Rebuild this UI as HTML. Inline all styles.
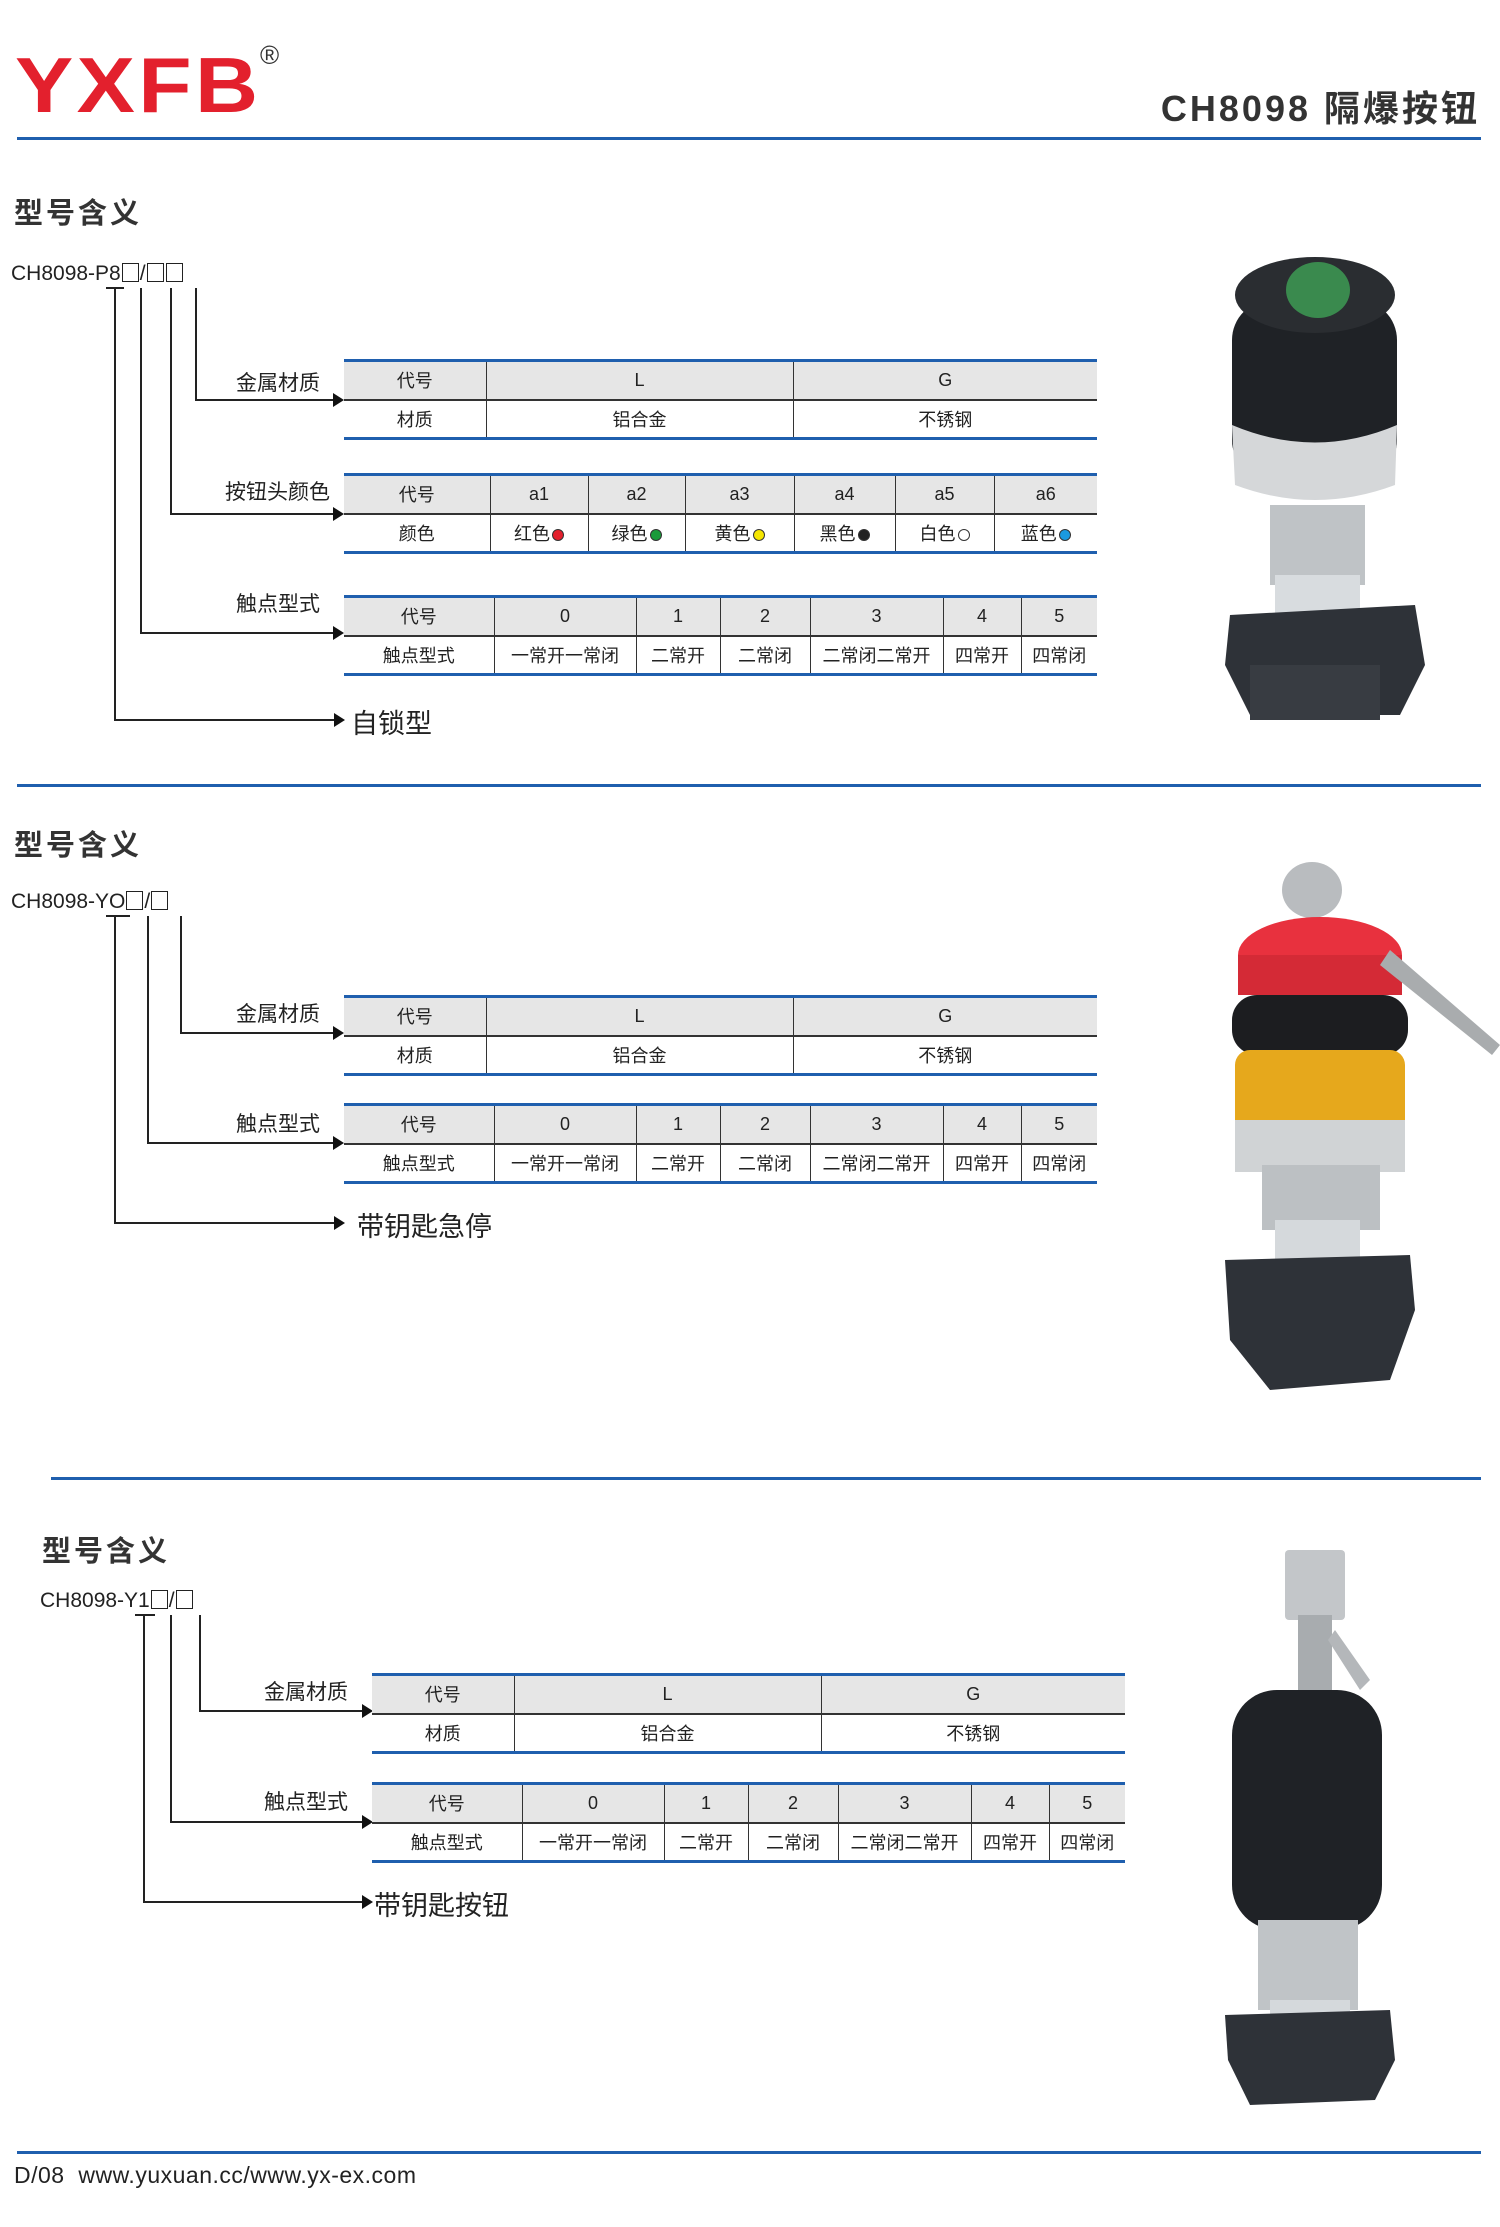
<!DOCTYPE html>
<html><head><meta charset="utf-8">
<style>
*{margin:0;padding:0;box-sizing:border-box}
body{width:1500px;height:2227px;background:#fff;position:relative;overflow:hidden;font-family:"Liberation Sans","Noto Sans CJK SC",sans-serif;color:#222}
.a{position:absolute}
.hl{position:absolute;height:3px;background:#1f5fae}
.h2{position:absolute;font-size:29px;font-weight:bold;color:#333;letter-spacing:3px;font-family:"Noto Sans CJK SC",sans-serif}
.code{position:absolute;font-size:21px;color:#222;white-space:nowrap}
.bx{display:inline-block;width:17px;height:19px;border:1.5px solid #222;vertical-align:-2px;margin:0 1px}
.lab{position:absolute;font-size:21px;color:#222;text-align:right;width:160px}
.v{position:absolute;width:2px;background:#222}
.h{position:absolute;height:2px;background:#222}
.ar{position:absolute;width:0;height:0;border-top:7px solid transparent;border-bottom:7px solid transparent;border-left:11px solid #111}
table{position:absolute;border-collapse:collapse;table-layout:fixed;font-size:18px;text-align:center}
table td{height:39px;border-left:1.5px solid #333;padding:0;white-space:nowrap}
table td:first-child{border-left:none}
table tr.r1 td{background:#e6e6e6;border-top:3px solid #1f5fae;border-bottom:2.5px solid #333}
table tr.r2 td{border-bottom:3px solid #1f5fae}
.dot{display:inline-block;width:12px;height:12px;border-radius:50%;border:1.5px solid #333;vertical-align:-1px;margin-left:2px}
.big{position:absolute;font-size:27px;color:#222}
</style></head><body>

<div class="a" style="left:15px;top:40px;font-size:78px;font-weight:bold;color:#e3202d;letter-spacing:3px;line-height:90px;transform:scaleX(1.12);transform-origin:left">YXFB</div>
<div class="a" style="left:260px;top:40px;font-size:26px;color:#333">®</div>
<div class="a" style="right:20px;top:80px;font-size:36px;font-weight:bold;color:#333;letter-spacing:3px;font-family:'Liberation Sans','Noto Sans CJK SC',sans-serif">CH8098 隔爆按钮</div>
<div class="hl" style="left:17px;top:137px;width:1464px"></div>

<!-- Section 1 -->
<div class="h2" style="left:14px;top:190px">型号含义</div>
<div class="code" style="left:11px;top:262px">CH8098-P8<span class="bx"></span>/<span class="bx"></span><span class="bx"></span></div>
<div class="v" style="left:114px;top:288px;height:433px"></div>
<div class="h" style="left:106px;top:287px;width:18px"></div>
<div class="v" style="left:140px;top:288px;height:346px"></div>
<div class="v" style="left:170px;top:288px;height:227px"></div>
<div class="v" style="left:195px;top:288px;height:113px"></div>
<div class="h" style="left:195px;top:399px;width:140px"></div><div class="ar" style="left:333px;top:393px"></div>
<div class="h" style="left:170px;top:513px;width:165px"></div><div class="ar" style="left:333px;top:507px"></div>
<div class="h" style="left:140px;top:632px;width:195px"></div><div class="ar" style="left:333px;top:626px"></div>
<div class="h" style="left:114px;top:719px;width:222px"></div><div class="ar" style="left:334px;top:713px"></div>
<div class="lab" style="left:160px;top:367px">金属材质</div>
<div class="lab" style="left:170px;top:476px">按钮头颜色</div>
<div class="lab" style="left:160px;top:588px">触点型式</div>
<div class="big" style="left:351px;top:702px">自锁型</div>

<table style="left:344px;top:359px;width:753px"><colgroup><col style="width:142px"><col style="width:307px"><col style="width:304px"></colgroup>
<tr class="r1"><td>代号</td><td>L</td><td>G</td></tr><tr class="r2"><td>材质</td><td>铝合金</td><td>不锈钢</td></tr></table>

<table style="left:344px;top:473px;width:753px"><colgroup><col style="width:146px"><col style="width:98px"><col style="width:97px"><col style="width:109px"><col style="width:101px"><col style="width:99px"><col style="width:103px"></colgroup>
<tr class="r1"><td>代号</td><td>a1</td><td>a2</td><td>a3</td><td>a4</td><td>a5</td><td>a6</td></tr>
<tr class="r2"><td>颜色</td><td>红色<span class="dot" style="background:#e3202d"></span></td><td>绿色<span class="dot" style="background:#1a9a3a"></span></td><td>黄色<span class="dot" style="background:#f5e600"></span></td><td>黑色<span class="dot" style="background:#222"></span></td><td>白色<span class="dot" style="background:#fff"></span></td><td>蓝色<span class="dot" style="background:#1a9ae0"></span></td></tr></table>

<table style="left:344px;top:595px;width:753px"><colgroup><col style="width:150px"><col style="width:142px"><col style="width:84px"><col style="width:90px"><col style="width:133px"><col style="width:78px"><col style="width:76px"></colgroup>
<tr class="r1"><td>代号</td><td>0</td><td>1</td><td>2</td><td>3</td><td>4</td><td>5</td></tr>
<tr class="r2"><td>触点型式</td><td>一常开一常闭</td><td>二常开</td><td>二常闭</td><td>二常闭二常开</td><td>四常开</td><td>四常闭</td></tr></table>

<svg class="a" style="left:1210px;top:245px" width="240" height="480">
<rect x="22" y="55" width="165" height="180" rx="40" fill="#1f2226"/>
<ellipse cx="105" cy="50" rx="80" ry="38" fill="#2a2d31"/>
<ellipse cx="108" cy="45" rx="32" ry="28" fill="#3a8a4e"/>
<path d="M22 180 Q105 215 187 180 L185 240 Q105 270 25 240Z" fill="#d5d7d9"/>
<rect x="60" y="260" width="95" height="80" fill="#bfc3c6"/>
<rect x="65" y="330" width="85" height="40" fill="#d8dcdf"/>
<polygon points="20,370 205,360 215,420 190,470 40,470 15,420" fill="#2e3238"/>
<rect x="40" y="420" width="130" height="55" fill="#383c42"/>
</svg>

<div class="hl" style="left:17px;top:784px;width:1464px"></div>

<!-- Section 2 -->
<div class="h2" style="left:14px;top:822px">型号含义</div>
<div class="code" style="left:11px;top:890px">CH8098-YO<span class="bx"></span>/<span class="bx"></span></div>
<div class="v" style="left:114px;top:916px;height:308px"></div>
<div class="h" style="left:106px;top:915px;width:24px"></div>
<div class="v" style="left:147px;top:916px;height:228px"></div>
<div class="v" style="left:180px;top:916px;height:118px"></div>
<div class="h" style="left:180px;top:1032px;width:155px"></div><div class="ar" style="left:333px;top:1026px"></div>
<div class="h" style="left:147px;top:1142px;width:188px"></div><div class="ar" style="left:333px;top:1136px"></div>
<div class="h" style="left:114px;top:1222px;width:222px"></div><div class="ar" style="left:334px;top:1216px"></div>
<div class="lab" style="left:160px;top:998px">金属材质</div>
<div class="lab" style="left:160px;top:1108px">触点型式</div>
<div class="big" style="left:357px;top:1205px">带钥匙急停</div>

<table style="left:344px;top:995px;width:753px"><colgroup><col style="width:142px"><col style="width:307px"><col style="width:304px"></colgroup>
<tr class="r1"><td>代号</td><td>L</td><td>G</td></tr><tr class="r2"><td>材质</td><td>铝合金</td><td>不锈钢</td></tr></table>
<table style="left:344px;top:1103px;width:753px"><colgroup><col style="width:150px"><col style="width:142px"><col style="width:84px"><col style="width:90px"><col style="width:133px"><col style="width:78px"><col style="width:76px"></colgroup>
<tr class="r1"><td>代号</td><td>0</td><td>1</td><td>2</td><td>3</td><td>4</td><td>5</td></tr>
<tr class="r2"><td>触点型式</td><td>一常开一常闭</td><td>二常开</td><td>二常闭</td><td>二常闭二常开</td><td>四常开</td><td>四常闭</td></tr></table>

<svg class="a" style="left:1210px;top:860px" width="290" height="600">
<ellipse cx="102" cy="30" rx="30" ry="28" fill="#b9bcbf"/>
<ellipse cx="110" cy="95" rx="82" ry="38" fill="#e8313e"/>
<rect x="28" y="95" width="164" height="40" fill="#d42a36"/>
<path d="M180 90 L290 185 L282 195 L170 105Z" fill="#a9acae"/>
<rect x="22" y="135" width="176" height="60" rx="25" fill="#1c1d20"/>
<rect x="25" y="190" width="170" height="90" rx="15" fill="#e6a81c"/>
<rect x="25" y="260" width="170" height="52" fill="#d0d3d5"/>
<rect x="52" y="305" width="118" height="65" fill="#bcc0c3"/>
<rect x="65" y="360" width="85" height="50" fill="#d5d9dc"/>
<polygon points="15,400 200,395 205,450 180,520 60,530 20,480" fill="#2e3238"/>
</svg>

<div class="hl" style="left:51px;top:1477px;width:1430px"></div>

<!-- Section 3 -->
<div class="h2" style="left:42px;top:1528px">型号含义</div>
<div class="code" style="left:40px;top:1589px">CH8098-Y1<span class="bx"></span>/<span class="bx"></span></div>
<div class="v" style="left:143px;top:1615px;height:288px"></div>
<div class="h" style="left:135px;top:1614px;width:20px"></div>
<div class="v" style="left:170px;top:1615px;height:208px"></div>
<div class="v" style="left:199px;top:1615px;height:97px"></div>
<div class="h" style="left:199px;top:1710px;width:165px"></div><div class="ar" style="left:362px;top:1704px"></div>
<div class="h" style="left:170px;top:1821px;width:194px"></div><div class="ar" style="left:362px;top:1815px"></div>
<div class="h" style="left:143px;top:1901px;width:221px"></div><div class="ar" style="left:362px;top:1895px"></div>
<div class="lab" style="left:188px;top:1676px">金属材质</div>
<div class="lab" style="left:188px;top:1786px">触点型式</div>
<div class="big" style="left:374px;top:1884px">带钥匙按钮</div>

<table style="left:372px;top:1673px;width:753px"><colgroup><col style="width:142px"><col style="width:307px"><col style="width:304px"></colgroup>
<tr class="r1"><td>代号</td><td>L</td><td>G</td></tr><tr class="r2"><td>材质</td><td>铝合金</td><td>不锈钢</td></tr></table>
<table style="left:372px;top:1782px;width:753px"><colgroup><col style="width:150px"><col style="width:142px"><col style="width:84px"><col style="width:90px"><col style="width:133px"><col style="width:78px"><col style="width:76px"></colgroup>
<tr class="r1"><td>代号</td><td>0</td><td>1</td><td>2</td><td>3</td><td>4</td><td>5</td></tr>
<tr class="r2"><td>触点型式</td><td>一常开一常闭</td><td>二常开</td><td>二常闭</td><td>二常闭二常开</td><td>四常开</td><td>四常闭</td></tr></table>

<svg class="a" style="left:1210px;top:1540px" width="240" height="570">
<rect x="75" y="10" width="60" height="70" rx="4" fill="#c3c6c9"/>
<rect x="88" y="75" width="34" height="80" fill="#a8acaf"/>
<path d="M125 90 L160 140 L150 150 L118 100Z" fill="#b4b7ba"/>
<rect x="22" y="150" width="150" height="240" rx="45" fill="#1f2226"/>
<rect x="48" y="380" width="100" height="90" fill="#c0c4c7"/>
<rect x="60" y="460" width="80" height="40" fill="#d5d9dc"/>
<polygon points="15,475 180,470 185,520 165,560 40,565 18,520" fill="#2e3238"/>
</svg>

<div class="hl" style="left:17px;top:2151px;width:1464px"></div>
<div class="a" style="left:14px;top:2162px;font-size:23px;color:#222;letter-spacing:0.5px">D/08&nbsp; www.yuxuan.cc/www.yx-ex.com</div>
</body></html>
